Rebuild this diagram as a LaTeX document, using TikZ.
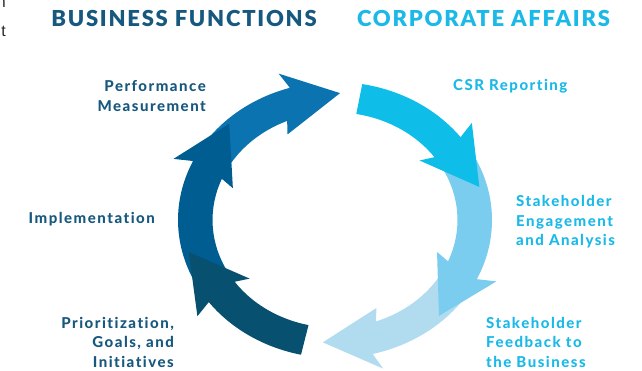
\documentclass[tikz,border=0pt]{standalone}
\usepackage{fontspec}
\setmainfont{Lato}
\newfontfamily\lblfont{Lato}[BoldFont={Lato Heavy}, LetterSpace=10, Ligatures={NoCommon,NoRare}]
\newfontfamily\ttlfont{Lato}[BoldFont={Lato Black}, LetterSpace=8, Ligatures={NoCommon,NoRare}]
\newfontfamily\fragfont{Liberation Sans}
\definecolor{perf}{HTML}{0A73B0}
\definecolor{impl}{HTML}{005D92}
\definecolor{prio}{HTML}{07506F}
\definecolor{csr}{HTML}{0EBDE8}
\definecolor{eng}{HTML}{7ACDEE}
\definecolor{fb}{HTML}{B1DCF0}
\definecolor{biztext}{HTML}{17587E}
\definecolor{cortext}{HTML}{1AB9E8}
\pgfkeys{/ringcs/.cd, a/.store in=\ringA, r/.store in=\ringR}
\tikzdeclarecoordinatesystem{ring}{%
  \pgfkeys{/ringcs/.cd,#1}%
  \pgfmathsetmacro\ringX{335+157*(\ringR)*cos(\ringA)}%
  \pgfmathsetmacro\ringY{150+138*(\ringR)*sin(\ringA)}%
  \pgfpointxy{\ringX}{\ringY}}
% #1 colour, #2 tail, #3 outer body end, #4 inner body end,
% #5 outer base angle, #6 inner base angle, #7 tip angle, #8 tip radius
\newcommand\ringarrow[8]{%
  \fill[#1] plot[domain=#2:#3,samples=40] (ring cs:a=\x,r=1)
    -- (ring cs:a=#5,r=1.12) -- (ring cs:a=#7,r=#8) -- (ring cs:a=#6,r=0.69)
    -- plot[domain=#4:#2,samples=40] (ring cs:a=\x,r=0.78) -- cycle;}
\begin{document}
\begin{tikzpicture}[x=1pt,y=1pt,
  title/.style={font=\ttlfont\bfseries\fontsize{22}{25}\selectfont, inner sep=0pt},
  lbl/.style={font=\lblfont\bfseries\fontsize{15}{19.5}\selectfont, inner sep=0pt},
  bizlbl/.style={lbl, text=biztext, align=right, anchor=east},
  corlbl/.style={lbl, text=cortext, align=left, anchor=west},
  frag/.style={font=\fragfont\fontsize{16}{16}\selectfont, text=black!85, inner sep=0pt, anchor=base east}]
\useasboundingbox (0,0) rectangle (642,370);
\clip (0,0) rectangle (642,370);
% cut-off fragments at the left edge
\node[frag] (fragn) at (6,362) {n};
\node[frag] (fragt) at (6,333) {t};
% arrows (order gives the overlaps)
\ringarrow{perf}{155}{106.7}{113}{108.7}{116}{88}{0.92}
\ringarrow{impl}{214}{154.7}{157.5}{156.7}{160.5}{134}{0.97}
\ringarrow{prio}{257.5}{216.5}{215}{218.5}{218}{194}{0.96}
\ringarrow{fb}{-26}{-76.1}{-70.5}{-74.1}{-67.5}{-95}{0.89}
\ringarrow{eng}{35}{-25.4}{-22.6}{-23.4}{-19.6}{-46.4}{0.96}
\ringarrow{csr}{80}{36.9}{35.7}{38.9}{38.7}{14.6}{0.95}
% titles
\node[title, text=biztext] (t1) at (184,352) {BUSINESS FUNCTIONS};
\node[title, text=cortext] (t2) at (483.5,352) {CORPORATE AFFAIRS};
% labels
\node[bizlbl] (perfl) at (206,274) {Performance\\Measurement};
\node[bizlbl] (impll) at (155,151) {Implementation};
\node[bizlbl] (priol) at (174,28) {Prioritization,\\Goals, and\\Initiatives};
\node[corlbl] (csrl) at (453,284) {CSR Reporting};
\node[corlbl] (engl) at (516,148) {Stakeholder\\Engagement\\and Analysis};
\node[corlbl] (fbl) at (486,28) {Stakeholder\\Feedback to\\the Business};
\end{tikzpicture}
\end{document}
